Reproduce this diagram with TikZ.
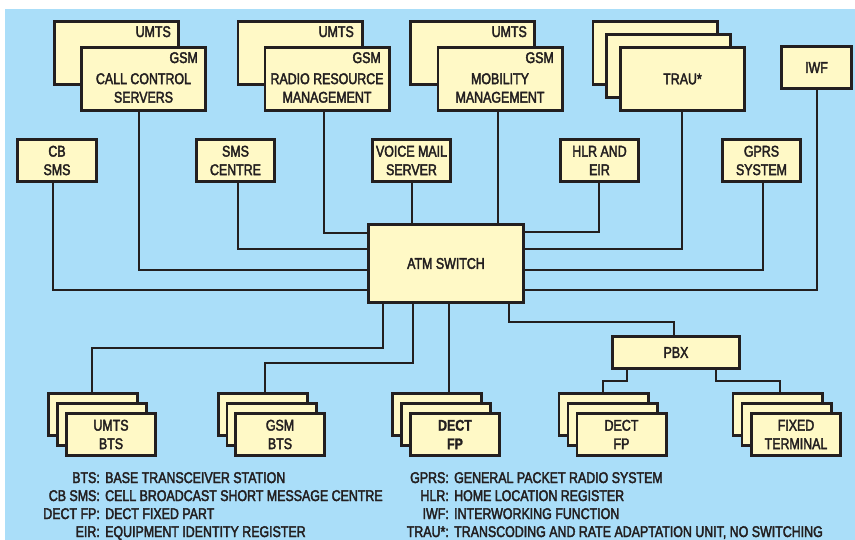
\documentclass[tikz,border=0pt]{standalone}
\usepackage{fontspec}
\setmainfont{Liberation Sans}[FakeStretch=0.8, FakeBold=2.5]
\newfontfamily\heavyfont{Liberation Sans}[FakeStretch=0.8, FakeBold=1.5]
\definecolor{bg}{RGB}{170,222,249}
\definecolor{boxfill}{RGB}{255,249,198}
\definecolor{ink}{RGB}{35,31,32}
\newcommand\boxfont{\fontsize{15.5}{18.5}\selectfont}
\tikzset{
  wire/.style={draw=ink, line width=2.8pt},
  box/.style={draw=ink, fill=boxfill, line width=2.8pt, inner sep=0pt,
    align=center, text=ink, font=\boxfont},
  stk/.style={box, minimum width=124.2pt, minimum height=63.2pt},
  small/.style={box, minimum width=78.7pt, minimum height=42.2pt},
  bts/.style={box, minimum width=89.2pt, minimum height=42.2pt},
  lbl/.style={text=ink, inner sep=0pt, font=\boxfont, align=center},
}
\begin{document}
\begin{tikzpicture}[x=1pt,y=-1pt]
\useasboundingbox (0,0) rectangle (855,540);
\fill[white] (0,0) rectangle (855,540);
\fill[bg] (5,9) rectangle (855,540);

% ---- top stacks
\node[stk] (ccsU) at (116.5,53) {};
\node[lbl, anchor=base east] (ccsUt) at (171,37) {UMTS};
\node[stk] (ccs) at (143.5,79) {};
\node[lbl, anchor=base east] (ccsGt) at (198,63) {GSM};
\node[lbl] (ccsT) at (143.5,88) {CALL CONTROL\\SERVERS};

\node[stk] (rrmU) at (300,53) {};
\node[lbl, anchor=base east] (rrmUt) at (354,37) {UMTS};
\node[stk] (rrm) at (327,79) {};
\node[lbl, anchor=base east] (rrmGt) at (381,63) {GSM};
\node[lbl] (rrmT) at (327,88) {RADIO RESOURCE\\MANAGEMENT};

\node[stk] (mmU) at (472.5,53) {};
\node[lbl, anchor=base east] (mmUt) at (527,37) {UMTS};
\node[stk] (mm) at (500,79) {};
\node[lbl, anchor=base east] (mmGt) at (554,63) {GSM};
\node[lbl] (mmT) at (500,88) {MOBILITY\\MANAGEMENT};

\node[stk] (trau1) at (655,53) {};
\node[stk] (trau2) at (668.5,66) {};
\node[stk] (trau3) at (682.5,79) {TRAU*};

\node[box, minimum width=70.2pt, minimum height=42.2pt] (iwf) at (816.5,67.5) {IWF};

% ---- second row
\node[small] (cbsms) at (57,160.5) {CB\\SMS};
\node[small] (smsc) at (235.5,160.5) {SMS\\CENTRE};
\node[small] (vms) at (411.5,160.5) {VOICE MAIL\\SERVER};
\node[small] (hlr) at (599.5,160.5) {HLR AND\\EIR};
\node[small] (gprs) at (761.5,160.5) {GPRS\\SYSTEM};

% ---- switch and PBX
\node[box, minimum width=155.2pt, minimum height=78.2pt] (atm) at (446,263.5) {ATM SWITCH};
\node[box, minimum width=127.2pt, minimum height=32.2pt] (pbx) at (676,352.5) {PBX};

% ---- bottom stacks
\node[bts] (ub1) at (93,414.5) {};
\node[bts] (ub2) at (102,424.5) {};
\node[bts] (ub3) at (111,434.5) {UMTS\\BTS};

\node[bts] (gb1) at (263,414.5) {};
\node[bts] (gb2) at (271.5,424.5) {};
\node[bts] (gb3) at (280,434.5) {GSM\\BTS};

\node[bts] (df1) at (437,414.5) {};
\node[bts] (df2) at (446,424.5) {};
\node[bts, font=\boxfont\heavyfont\bfseries] (df3) at (455,434.5) {DECT\\FP};

\node[bts] (pf1) at (603.5,414.5) {};
\node[bts] (pf2) at (612.5,424.5) {};
\node[bts] (pf3) at (621.5,434.5) {DECT\\FP};

\node[bts] (ft1) at (777.5,414.5) {};
\node[bts] (ft2) at (786.5,424.5) {};
\node[bts] (ft3) at (796,434.5) {FIXED\\TERMINAL};

% ---- wires to the switch (top)
\draw[wire] (cbsms.south -| 53,0) |- (atm.west |- 0,290);
\draw[wire] (ccs.south -| 139,0) |- (atm.west |- 0,270);
\draw[wire] (smsc.south -| 238,0) |- (atm.west |- 0,249);
\draw[wire] (rrm.south -| 324,0) |- (atm.west |- 0,233);
\draw[wire] (vms.south -| 412,0) -- (atm.north -| 412,0);
\draw[wire] (mm.south -| 498,0) -- (atm.north -| 498,0);
\draw[wire] (hlr.south -| 599,0) |- (atm.east |- 0,232);
\draw[wire] (trau3.south -| 682,0) |- (atm.east |- 0,249);
\draw[wire] (gprs.south -| 763,0) |- (atm.east |- 0,270);
\draw[wire] (iwf.south -| 817,0) |- (atm.east |- 0,290);

% ---- wires from the switch (bottom)
\draw[wire] (atm.south -| 383,0) |- (92,348) -- (ub1.north -| 92,0);
\draw[wire] (atm.south -| 413,0) |- (265,363) -- (gb1.north -| 265,0);
\draw[wire] (atm.south -| 449,0) -- (df1.north -| 449,0);
\draw[wire] (atm.south -| 509,0) |- (674,322) -- (pbx.north -| 674,0);
\draw[wire] (pbx.south -| 627,0) |- (603,381) -- (pf1.north -| 603,0);
\draw[wire] (pbx.south -| 716,0) |- (780,381) -- (ft1.north -| 780,0);

% ---- legend
\node[lbl, anchor=base east] (k1) at (100,483) {BTS:};
\node[lbl, anchor=base west] (d1) at (105,483) {BASE TRANSCEIVER STATION};
\node[lbl, anchor=base east] (k2) at (100,501) {CB SMS:};
\node[lbl, anchor=base west] (d2) at (105,501) {CELL BROADCAST SHORT MESSAGE CENTRE};
\node[lbl, anchor=base east] (k3) at (100,519) {DECT FP:};
\node[lbl, anchor=base west] (d3) at (105,519) {DECT FIXED PART};
\node[lbl, anchor=base east] (k4) at (100,537) {EIR:};
\node[lbl, anchor=base west] (d4) at (105,537) {EQUIPMENT IDENTITY REGISTER};

\node[lbl, anchor=base east] (k5) at (449,483) {GPRS:};
\node[lbl, anchor=base west] (d5) at (454,483) {GENERAL PACKET RADIO SYSTEM};
\node[lbl, anchor=base east] (k6) at (449,501) {HLR:};
\node[lbl, anchor=base west] (d6) at (454,501) {HOME LOCATION REGISTER};
\node[lbl, anchor=base east] (k7) at (449,519) {IWF:};
\node[lbl, anchor=base west] (d7) at (454,519) {INTERWORKING FUNCTION};
\node[lbl, anchor=base east] (k8) at (449,537) {TRAU*:};
\node[lbl, anchor=base west] (d8) at (454,537) {TRANSCODING AND RATE ADAPTATION UNIT, NO SWITCHING};
\end{tikzpicture}
\end{document}
